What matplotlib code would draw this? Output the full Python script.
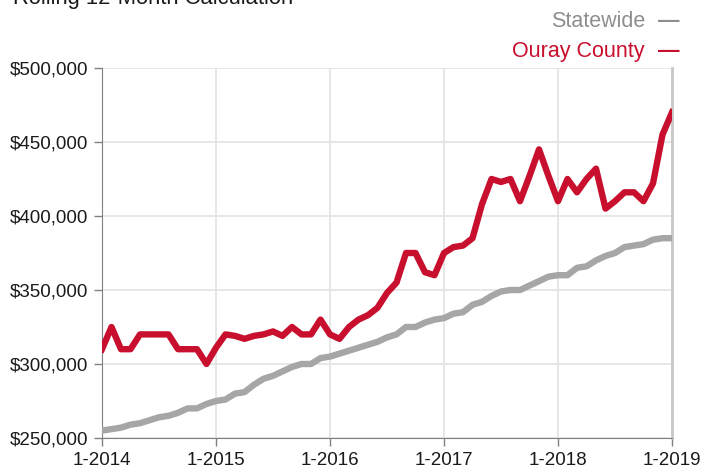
import matplotlib
matplotlib.use("Agg")
import matplotlib.pyplot as plt
from matplotlib.ticker import FuncFormatter

plt.rcParams['font.family'] = ['Liberation Sans', 'DejaVu Sans']

# ---------------------------------------------------------------------
# Data: monthly median sales price, rolling 12-month, 1-2014 .. 1-2019
# ---------------------------------------------------------------------
year_labels = ["1-2014", "1-2015", "1-2016", "1-2017", "1-2018", "1-2019"]

statewide = [
    255, 256, 257, 259, 260, 262, 264, 265, 267, 270, 270, 273,
    275, 276, 280, 281, 286, 290, 292, 295, 298, 300, 300, 304,
    305, 307, 309, 311, 313, 315, 318, 320, 325, 325, 328, 330,
    331, 334, 335, 340, 342, 346, 349, 350, 350, 353, 356, 359,
    360, 360, 365, 366, 370, 373, 375, 379, 380, 381, 384, 385,
    385,
]

ouray = [
    310, 325, 310, 310, 320, 320, 320, 320, 310, 310, 310, 300,
    311, 320, 319, 317, 319, 320, 322, 319, 325, 320, 320, 330,
    320, 317, 325, 330, 333, 338, 348, 355, 375, 375, 362, 360,
    375, 379, 380, 385, 408, 425, 423, 425, 410, 427, 445, 427,
    410, 425, 416, 425, 432, 405, 410, 416, 416, 410, 422, 455,
    470,
]

months = list(range(len(ouray)))

red = "#C8102E"
gray = "#A6A6A6"

fig = plt.figure(figsize=(7.04, 4.70), dpi=100)
ax = fig.add_axes([102 / 704, 1 - 438 / 470, 570 / 704, 370 / 470])

ax.plot(months, statewide, color=gray, linewidth=4.6, solid_joinstyle="round", zorder=3)
ax.plot(months, ouray, color=red, linewidth=4.6, solid_joinstyle="round", zorder=4)

ax.set_xlim(0, 60)
ax.set_ylim(250, 500)
ax.set_xticks(range(0, 61, 12))
ax.set_xticklabels(year_labels)
ax.set_yticks(range(250, 501, 50))
ax.yaxis.set_major_formatter(FuncFormatter(lambda v, p: "${:,.0f}".format(v * 1000)))

ax.grid(True, color="#E3E3E3", linewidth=1.2, zorder=0)
ax.set_axisbelow(True)
ax.spines["top"].set_visible(False)
ax.spines["right"].set_color("#C8C8C8")
ax.spines["right"].set_linewidth(2)
ax.spines["left"].set_color("#808080")
ax.spines["bottom"].set_color("#808080")
ax.tick_params(axis="both", colors="#808080", length=6, width=1,
               labelsize=13.5, labelcolor="#1a1a1a")
ax.tick_params(axis="x", pad=4)
ax.tick_params(axis="y", pad=4)

# title (cut off at the top in the original) and legend-style labels
fig.text(13 / 704, 1 - 4 / 470, "Rolling 12-Month Calculation", fontsize=15.8,
         color="#1a1a1a", va="baseline", ha="left")
fig.text(645 / 704, 1 - 27 / 470, "Statewide", fontsize=15.5, color="#8E8E8E",
         va="baseline", ha="right")
fig.text(658 / 704, 1 - 27 / 470, "\u2014", fontsize=15.5, color="#8E8E8E",
         va="baseline", ha="left", fontweight="bold")
fig.text(645 / 704, 1 - 57 / 470, "Ouray County", fontsize=15.5, color=red,
         va="baseline", ha="right")
fig.text(658 / 704, 1 - 57 / 470, "\u2014", fontsize=15.5, color=red,
         va="baseline", ha="left", fontweight="bold")

fig.savefig("out.png", dpi=100)
